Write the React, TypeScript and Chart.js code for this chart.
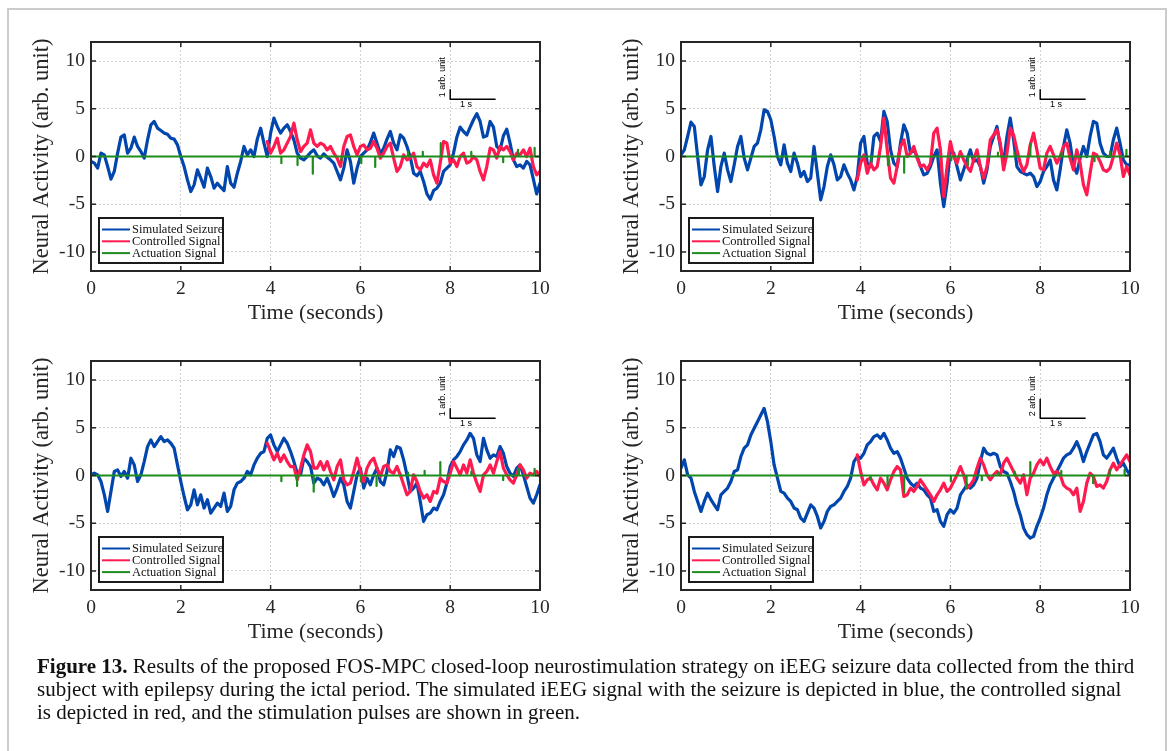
import React, { useEffect, useRef } from "react";
import { Chart, registerables } from "chart.js";

Chart.register(...registerables);

// ---------- data ----------
// signals are read at a regular spacing of 10/135 s
const SAMPLE_STEP = 10 / 135;
// index of the first sample of the controlled signal (t ≈ 3.93 s)
const CONTROL_START = 53;
const X_TICKS = [0, 2, 4, 6, 8, 10];
const Y_TICKS = [-10, -5, 0, 5, 10];
const SERIES_NAMES = ["Simulated Seizure", "Controlled Signal", "Actuation Signal"];

// Panel 1 (top left)
const P1_SEIZURE = [
  -0.5, -0.7, -1.22, 0.35, 0.17, -1.05, -2.38, -1.57, 0.35, 2.03,
  2.27, 0.35, 0.87, 2.03, 1.05, 0.52, -0.17, 1.75, 3.32, 3.67,
  2.97, 2.73, 2.45, 2.34, 1.92, 1.82, 1.22, 0, -1.05, -2.45,
  -3.67, -2.97, -1.4, -2.27, -3.22, -1.22, -2.1, -3.32, -2.8, -3.22,
  -3.57, -1.05, -2.8, -3.22, -1.75, -0.52, 1.05, 0.17, 0.7, 0,
  1.82, 2.97, 1.4, 0, 2.45, 4.02, 3.15, 2.45, 2.97, 3.32,
  2.62, 1.75, 0.35, -0.17, -0.35, 0, 0.42, 0.7, 0.07, -0.17,
  0.28, -0.07, -0.35, -0.7, -1.57, -2.45, -1.22, 0.7, -0.52, -2.8,
  -1.22, 0, 0.35, 0.7, 1.47, 2.45, 1.4, 0.28, 0.87, 1.82,
  2.62, 1.4, 0.7, 2.27, 1.92, 1.05, -0.07, -1.75, -2.03, -1.57,
  -2.62, -3.92, -4.48, -3.57, -3.32, -2.8, -1.57, -1.22, -0.87, 0.35,
  2.03, 3.08, 2.62, 2.27, 3.08, 3.85, 4.48, 3.67, 2.03, 2.17,
  3.67, 3.08, 1.05, 0.7, 2.17, 2.87, 1.4, -0.35, -1.05, -0.87,
  -1.22, -0.52, -0.87, -2.38, -3.92, -2.8,
];
const P1_CONTROLLED = [
  1.57, 0.35, 1.05, 1.92, 0.35, 0.7, 1.4, 2.1, 3.5, 1.75,
  0.52, 1.05, 1.4, 2.8, 1.4, 1.05, 1.4, 1.22, 0.7, 1.05,
  0.35, -0.17, -1.05, 1.05, 2.1, 2.27, 1.05, 0.17, 1.05, 1.22,
  0.7, 0.87, 1.57, 0.87, -0.17, 0.35, 1.05, 1.4, -0.17, -1.57,
  -1.05, 0.17, -0.35, -0.17, 0.35, -1.05, -1.4, -0.7, -1.05, -0.35,
  -1.92, -2.8, -0.7, 1.57, 1.4, -0.7, -0.35, -1.05, 0, 0.35,
  -0.7, -0.52, 0, -0.35, -1.57, -2.45, -1.05, 0.87, 0.7, -0.17,
  1.05, 0.7, 1.05, 0.52, -0.35, 0.35, 0.17, 0.7, 0, 0.87,
  -1.05, -1.92, -1.57,
];
const P1_PULSE_TIMES = [4.24, 4.6, 4.94, 5.58, 6.02, 6.33, 7.06, 7.39, 7.79, 8.47, 9.18, 9.51, 9.88];
const P1_PULSE_AMPS = [-0.7, -0.9, -1.8, -0.4, -0.7, -1.1, 0.5, 0.5, 1.4, 0.5, -0.6, 0.7, 0.9];

// Panel 2 (top right)
const P2_SEIZURE = [
  0.17, 0.7, 2.1, 3.6, 3.15, 0, -2.97, -2.1, 0.7, 2.1,
  -1.05, -3.67, -1.05, 0.35, -1.4, -2.62, -0.87, 1.05, 2.1, -0.17,
  -1.4, -0.17, 1.05, 1.4, 2.8, 4.9, 4.72, 3.85, 2.1, 0,
  -0.87, 1.22, -0.7, -1.57, 0.35, -0.7, -2.1, -1.57, -2.62, -2.27,
  1.05, -1.75, -4.55, -3.15, -1.05, 0.17, -0.87, -2.45, -2.1, -0.87,
  -1.75, -2.45, -3.5, -2.1, 1.4, 2.1, -0.7, -1.05, 2.1, 2.45,
  1.57, 4.72, 3.67, 0.7, -0.7, -1.05, 1.4, 3.32, 2.45, 0.35,
  0.7, 0, -1.05, -1.92, -1.75, -1.05, 0, 0.7, -2.8, -5.25,
  -2.8, 0.7, 0.35, -1.05, -2.45, -1.4, -0.35, 0.7, -0.52, -0.35,
  -1.05, -2.8, -1.4, 1.05, 2.1, 3.15, 1.05, -0.7, 2.1, 4.02,
  1.75, -1.05, -1.57, -1.75, -1.92, -1.75, -2.1, -3.15, -2.62, -1.57,
  -1.05, -0.35, -2.45, -3.5, -1.4, 1.05, 2.8, 1.4, -1.05, -1.75,
  -0.17, 1.05, 0, 2.1, 3.67, 3.5, 1.4, 0.35, 0, 0,
  1.75, 2.97, 1.4, -0.35, -0.87, -0.87,
];
const P2_CONTROLLED = [
  -2.45, -0.7, 0.17, -1.75, -0.7, -1.4, -1.05, 1.05, 4.02, 0.7,
  -2.27, -2.8, -1.05, 1.05, 1.75, 0, 0.35, 1.05, -0.17, -1.05,
  -0.87, -1.4, -0.7, 2.45, 2.97, 0.7, -4.2, -1.05, 1.57, 0,
  -0.7, 0.52, -0.35, -1.05, -1.57, -0.35, 0.7, -1.05, -2.27, -1.05,
  1.75, 2.27, 2.8, 1.4, -1.4, 0.35, 2.97, 2.27, 0.7, -0.7,
  -1.57, -0.87, 1.22, 2.45, 0.7, -1.22, -1.4, 0.35, 1.05, 0.17,
  -0.7, 0, 1.05, 1.4, -0.17, -1.4, 0.7, -0.7, -2.97, -4.02,
  -1.75, 0.35, 0.17, -0.52, -1.4, -1.57, -1.22, 0, 1.4, 0.17,
  -2.1, -1.05, -1.92,
];
const P2_PULSE_TIMES = [4.24, 4.61, 4.97, 6.02, 6.39, 7.06, 7.43, 7.78, 8.47, 9.21, 9.56, 9.92];
const P2_PULSE_AMPS = [-0.5, -0.9, -1.7, -0.4, -0.9, 0.4, 0.4, 1.3, 0.4, -0.5, 0.5, 0.7];

// Panel 3 (bottom left)
const P3_SEIZURE = [
  0.07, 0.24, 0.07, -0.63, -2.0, -3.76, -1.67, 0.42, 0.59, -0.1,
  0.42, -0.28, 1.81, 1.11, -0.63, 0.07, 1.46, 3.03, 3.73, 3.03,
  3.55, 4.08, 3.55, 3.73, 3.38, 2.86, 1.11, -0.63, -2.2, -3.59,
  -3.07, -1.5, -3.07, -2.02, -3.41, -2.54, -3.94, -3.41, -2.89, -3.24,
  -1.85, -3.76, -3.24, -1.5, -0.8, -0.63, -0.28, 0.42, 0.07, 1.11,
  1.81, 2.33, 2.51, 3.9, 4.25, 3.21, 2.51, 3.21, 3.9, 3.38,
  2.51, 1.46, 0.24, 0.07, 1.81, 1.46, 0.94, -0.8, -0.28, -0.45,
  -0.98, -0.28, -1.15, -2.2, -1.32, -0.28, -0.98, -2.72, -3.41, -1.67,
  0.07, 0.77, -1.32, -0.28, -0.98, 0.07, 0.77, -0.63, -0.98, 0.42,
  2.68, 1.99, 3.03, 2.86, 1.64, 0.07, -1.67, -1.32, -0.8, -2.72,
  -4.81, -4.11, -3.94, -3.41, -3.59, -2.72, -2.02, -0.8, 0.94, 1.64,
  1.99, 2.51, 3.21, 3.73, 4.42, 3.9, 2.16, 1.46, 3.9, 2.68,
  1.81, 2.16, 1.99, 3.03, 2.33, 0.94, 0.24, -0.1, 0.77, 1.11,
  0.07, -1.15, -2.37, -2.89, -2.02, -0.98,
];
const P3_CONTROLLED = [
  3.38, 2.51, 1.64, 2.33, 1.46, 2.16, 1.46, 0.94, 0.94, -0.45,
  0.77, 2.16, 3.21, 2.51, 0.77, 0.77, 1.46, 0.59, 1.46, 0.42,
  -0.45, 0.94, 1.64, -0.45, -0.98, -0.8, 0.42, 1.81, 0.42, -0.63,
  0.77, 1.46, 1.81, 0.77, -0.1, 0.94, 1.11, 0.42, 0.24, 0.94,
  0.07, -0.98, -2.02, -1.67, 0.07, -0.63, -1.67, -2.37, -2.02, -2.72,
  -1.67, -1.85, -0.28, -0.63, -0.8, 0.24, 1.46, 0.77, 0.07, 1.11,
  0.24, 1.64, 0.24, -0.8, -1.67, 0.07, 0.42, 1.11, 0.24, 1.46,
  2.51, 0.77, 0.07, -0.45, -0.8, 0.07, 1.11, 0.59, -0.28, 0.24,
  0.07, 0.42, -0.1,
];
const P3_PULSE_TIMES = [4.24, 4.59, 4.96, 6.01, 6.36, 7.06, 7.43, 7.78, 8.47, 9.18, 9.53, 9.88];
const P3_PULSE_AMPS = [-0.6, -1.1, -1.7, -0.6, -1.1, 0.3, 0.5, 1.4, 0.4, -0.5, 0.7, 0.7];

// Panel 4 (bottom right)
const P4_SEIZURE = [
  0.77, 1.64, 0.07, -0.28, -1.67, -2.72, -3.76, -2.72, -1.85, -2.54,
  -3.07, -3.59, -2.02, -1.67, -1.32, -0.63, 0.42, 0.59, 1.99, 2.86,
  3.21, 4.25, 4.95, 5.64, 6.34, 7.04, 5.64, 3.55, 1.11, -0.28,
  -1.67, -1.85, -2.37, -2.72, -3.41, -3.59, -4.46, -4.81, -3.94, -3.07,
  -3.41, -4.29, -5.5, -4.81, -3.76, -3.24, -3.07, -2.72, -2.37, -1.67,
  -1.15, -0.28, 1.46, 1.99, 1.81, 2.33, 3.21, 3.55, 4.08, 4.25,
  3.9, 4.42, 3.73, 2.86, 2.33, 2.51, 1.81, 0.77, -0.28, -0.8,
  -1.15, -0.8, -1.32, -1.5, -2.02, -2.37, -3.76, -3.59, -4.81, -5.33,
  -4.11, -3.59, -3.94, -3.41, -2.02, -1.5, -0.98, -1.32, -0.98, -0.28,
  1.46, 2.86, 2.33, 2.16, 2.33, 2.16, 0.94, 0.42, 0.24, -0.63,
  -1.67, -3.07, -4.11, -5.5, -6.2, -6.55, -6.38, -5.33, -4.46, -3.41,
  -2.02, -0.98, -0.28, 0.42, 1.11, 1.81, 2.16, 2.33, 2.86, 3.55,
  2.68, 1.46, 2.51, 3.38, 4.25, 4.42, 3.55, 2.16, 1.81, 2.33,
  2.86, 1.81, 0.94, 1.29, 0.59, 0.07,
];
const P4_CONTROLLED = [
  2.16, 0.42, -0.98, -0.45, -0.28, -0.98, -1.5, -0.28, -0.8, -1.5,
  -0.45, 0.42, 0.94, 0.59, -2.2, -2.02, -1.32, -1.67, -1.15, -0.45,
  -0.98, -1.5, -2.02, -2.72, -2.02, -1.5, -0.8, -1.67, -1.32, -0.63,
  0.07, 0.94, 0.07, -1.32, -0.98, -0.45, 0.77, 1.81, 1.11, 0.07,
  -0.45, 0.07, 0.42, 0.07, 1.29, 1.81, 1.11, 0.42, -0.28, -0.8,
  0.07, -2.02, -0.28, 0.24, 1.11, 1.64, 1.11, 1.81, 0.94, 0.24,
  0.42, 0.07, -0.98, -1.32, -1.5, -2.02, -1.32, -3.76, -2.72, -0.8,
  0.24, -0.1, -1.15, -0.98, -1.32, -0.63, 0.59, 1.29, 0.59, 1.11,
  1.64, 2.16, 1.46,
];
const P4_PULSE_TIMES = [4.22, 4.6, 4.97, 6.01, 6.36, 6.7, 7.06, 7.43, 7.78, 8.47, 9.18, 9.55, 9.88];
const P4_PULSE_AMPS = [-0.4, -1.0, -1.8, -0.6, -1.3, -0.5, 0.3, 0.4, 1.4, 0.5, -0.8, 0.6, 0.6];

// scale bar heights (arb. units) shown in each panel
const SCALE_BAR_UNITS = [1, 1, 1, 2];
const SCALE_BAR_ORIGIN = { x: 8, y: 6 };

// ---------- styling ----------
const BLUE = "#0046ad";
const RED = "#ff1a4f";
const GREEN = "#1c8c1c";
const AXIS = "#262626";
const SERIF = "'Liberation Serif', 'Times New Roman', serif";
const SANS = "'Liberation Sans', Arial, sans-serif";

const CANVAS_W = 540;
const CANVAS_H = 320;

const overlayPlugin = {
  id: "matlabOverlay",
  afterDatasetsDraw(chart: any) {
    const ctx = chart.ctx;
    const { left, right, top, bottom } = chart.chartArea;
    const xs = chart.scales.x;
    const ys = chart.scales.y;
    ctx.save();
    // box
    ctx.strokeStyle = AXIS;
    ctx.lineWidth = 2;
    ctx.strokeRect(left, top, right - left, bottom - top);
    // inward tick marks
    ctx.lineWidth = 1.5;
    const tl = 5;
    X_TICKS.forEach((v) => {
      const px = xs.getPixelForValue(v);
      ctx.beginPath();
      ctx.moveTo(px, bottom);
      ctx.lineTo(px, bottom - tl);
      ctx.moveTo(px, top);
      ctx.lineTo(px, top + tl);
      ctx.stroke();
    });
    Y_TICKS.forEach((v) => {
      const py = ys.getPixelForValue(v);
      ctx.beginPath();
      ctx.moveTo(left, py);
      ctx.lineTo(left + tl, py);
      ctx.moveTo(right, py);
      ctx.lineTo(right - tl, py);
      ctx.stroke();
    });
    // scale bar labels
    const units = chart.options.plugins.matlabOverlay.units;
    const bx = xs.getPixelForValue(SCALE_BAR_ORIGIN.x);
    const by = ys.getPixelForValue(SCALE_BAR_ORIGIN.y);
    ctx.fillStyle = "#000";
    ctx.font = `9px ${SANS}`;
    ctx.textAlign = "left";
    ctx.textBaseline = "top";
    ctx.fillText("1 s", xs.getPixelForValue(SCALE_BAR_ORIGIN.x + 0.22), by + 0.5);
    ctx.save();
    ctx.translate(bx - 3, by - 2);
    ctx.rotate(-Math.PI / 2);
    ctx.textBaseline = "bottom";
    ctx.textAlign = "left";
    ctx.fillText(`${units} arb. unit`, 0, 0);
    ctx.restore();
    // legend
    const lx = left + 8;
    const ly = bottom - 53;
    const lw = 124;
    const lh = 45;
    ctx.fillStyle = "#fff";
    ctx.fillRect(lx, ly, lw, lh);
    ctx.strokeStyle = "#1a1a1a";
    ctx.lineWidth = 2;
    ctx.strokeRect(lx, ly, lw, lh);
    const ds = chart.data.datasets.filter((d: any) => SERIES_NAMES.includes(d.label));
    ds.sort((a: any, b: any) => SERIES_NAMES.indexOf(a.label) - SERIES_NAMES.indexOf(b.label));
    ds.forEach((d: any, i: number) => {
      const ey = ly + 11.5 + i * 11.8;
      ctx.strokeStyle = d.borderColor;
      ctx.lineWidth = 2;
      ctx.beginPath();
      ctx.moveTo(lx + 3, ey);
      ctx.lineTo(lx + 31, ey);
      ctx.stroke();
      ctx.fillStyle = "#111";
      ctx.font = `12.5px ${SERIF}`;
      ctx.textAlign = "left";
      ctx.textBaseline = "middle";
      ctx.fillText(d.label, lx + 33, ey + 0.5);
    });
    ctx.restore();
  },
};

type PanelProps = {
  seizure: number[];
  controlled: number[];
  pulseTimes: number[];
  pulseAmps: number[];
  units: number;
  left: number;
  top: number;
};

function Panel({ seizure, controlled, pulseTimes, pulseAmps, units, left, top }: PanelProps) {
  const ref = useRef<HTMLCanvasElement | null>(null);
  useEffect(() => {
    if (!ref.current) return;
    const seizurePts = seizure.map((v, i) => ({ x: i * SAMPLE_STEP, y: v }));
    const controlledPts = controlled.map((v, i) => ({ x: (i + CONTROL_START) * SAMPLE_STEP, y: v }));
    const actuationPts: { x: number; y: number }[] = [{ x: 0, y: 0 }];
    pulseTimes.forEach((t, i) => {
      actuationPts.push({ x: t, y: 0 }, { x: t, y: pulseAmps[i] }, { x: t, y: 0 });
    });
    actuationPts.push({ x: 10, y: 0 });
    const barPts = [
      { x: SCALE_BAR_ORIGIN.x, y: SCALE_BAR_ORIGIN.y + units },
      { x: SCALE_BAR_ORIGIN.x, y: SCALE_BAR_ORIGIN.y },
      { x: SCALE_BAR_ORIGIN.x + 1, y: SCALE_BAR_ORIGIN.y },
    ];
    const chart = new Chart(ref.current, {
      type: "line",
      data: {
        datasets: [
          { label: "scale bar", data: barPts, borderColor: "#000", borderWidth: 1.5, order: 0, clip: false } as any,
          { label: SERIES_NAMES[2], data: actuationPts, borderColor: GREEN, borderWidth: 2.2, order: 1 },
          { label: SERIES_NAMES[1], data: controlledPts, borderColor: RED, borderWidth: 3.2, order: 2 },
          { label: SERIES_NAMES[0], data: seizurePts, borderColor: BLUE, borderWidth: 3.2, order: 3 },
        ],
      },
      options: {
        animation: false,
        responsive: false,
        devicePixelRatio: 1,
        parsing: false as any,
        normalized: true,
        layout: { padding: { left: 0, top: 22, right: 20, bottom: 0 } },
        elements: { point: { radius: 0 }, line: { tension: 0, borderJoinStyle: "round", borderCapStyle: "round" } },
        plugins: {
          legend: { display: false },
          tooltip: { enabled: false },
          matlabOverlay: { units },
        } as any,
        scales: {
          x: {
            type: "linear",
            min: 0,
            max: 10,
            afterBuildTicks: (s: any) => {
              s.ticks = X_TICKS.map((v) => ({ value: v }));
            },
            afterFit: (s: any) => {
              s.height = 69;
            },
            grid: { color: "#d2d2d2", lineWidth: 1, drawTicks: false },
            border: { display: false, dash: [2, 2] },
            ticks: {
              font: { family: SERIF, size: 19.5 },
              color: AXIS,
              padding: 6,
              maxRotation: 0,
              autoSkip: false,
            },
            title: {
              display: true,
              text: "Time (seconds)",
              font: { family: SERIF, size: 22 },
              color: AXIS,
              padding: { top: 0, bottom: 14 },
            },
          },
          y: {
            type: "linear",
            min: -12,
            max: 12,
            afterBuildTicks: (s: any) => {
              s.ticks = Y_TICKS.map((v) => ({ value: v }));
            },
            afterFit: (s: any) => {
              s.width = 71;
            },
            grid: { color: "#d2d2d2", lineWidth: 1, drawTicks: false },
            border: { display: false, dash: [2, 2] },
            ticks: {
              font: { family: SERIF, size: 19.5 },
              color: AXIS,
              padding: 6,
              autoSkip: false,
            },
            title: {
              display: true,
              text: "Neural Activity (arb. unit)",
              font: { family: SERIF, size: 22.5 },
              color: AXIS,
              padding: { top: 9, bottom: 0 },
            },
          },
        },
      },
      plugins: [overlayPlugin],
    } as any);
    return () => chart.destroy();
  }, [seizure, controlled, pulseTimes, pulseAmps, units]);
  return (
    <canvas
      ref={ref}
      width={CANVAS_W}
      height={CANVAS_H}
      style={{ position: "absolute", left, top, width: CANVAS_W, height: CANVAS_H }}
    />
  );
}

export default function App() {
  const lineStyle: React.CSSProperties = { whiteSpace: "nowrap", height: 23 };
  return (
    <div style={{ position: "absolute", left: 0, top: 0, width: 1170, height: 751, background: "#fff", overflow: "hidden" }}>
      <div
        style={{
          position: "absolute",
          left: 7,
          top: 8,
          width: 1160,
          height: 750,
          border: "2px solid #cccccc",
          boxSizing: "border-box",
        }}
      />
      <Panel seizure={P1_SEIZURE} controlled={P1_CONTROLLED} pulseTimes={P1_PULSE_TIMES} pulseAmps={P1_PULSE_AMPS} units={SCALE_BAR_UNITS[0]} left={20} top={20} />
      <Panel seizure={P2_SEIZURE} controlled={P2_CONTROLLED} pulseTimes={P2_PULSE_TIMES} pulseAmps={P2_PULSE_AMPS} units={SCALE_BAR_UNITS[1]} left={610} top={20} />
      <Panel seizure={P3_SEIZURE} controlled={P3_CONTROLLED} pulseTimes={P3_PULSE_TIMES} pulseAmps={P3_PULSE_AMPS} units={SCALE_BAR_UNITS[2]} left={20} top={339} />
      <Panel seizure={P4_SEIZURE} controlled={P4_CONTROLLED} pulseTimes={P4_PULSE_TIMES} pulseAmps={P4_PULSE_AMPS} units={SCALE_BAR_UNITS[3]} left={610} top={339} />
      <div
        style={{
          position: "absolute",
          left: 37,
          top: 655,
          fontFamily: SERIF,
          fontSize: 21,
          lineHeight: "23px",
          color: "#111",
        }}
      >
        <div style={lineStyle}>
          <b>Figure 13.</b> Results of the proposed FOS-MPC closed-loop neurostimulation strategy on iEEG seizure data collected from the third
        </div>
        <div style={lineStyle}>
          subject with epilepsy during the ictal period. The simulated iEEG signal with the seizure is depicted in blue, the controlled signal
        </div>
        <div style={lineStyle}>is depicted in red, and the stimulation pulses are shown in green.</div>
      </div>
    </div>
  );
}
